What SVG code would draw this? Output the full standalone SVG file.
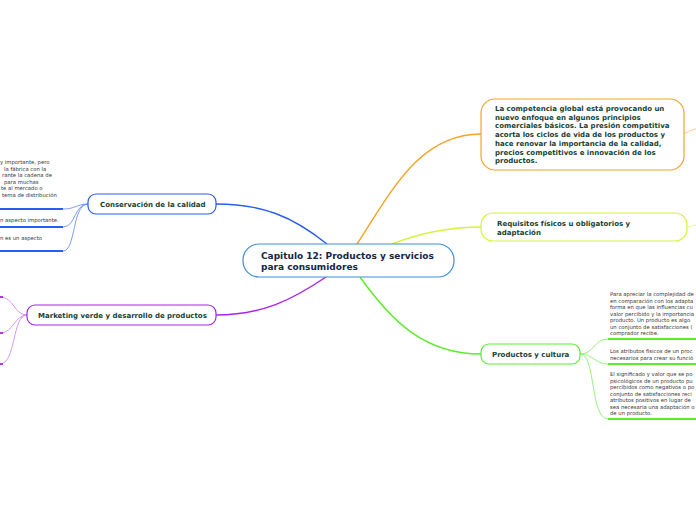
<svg xmlns="http://www.w3.org/2000/svg" width="696" height="520" viewBox="0 0 696 520">
<style>
.lbl{font-family:"DejaVu Sans",Verdana,sans-serif;font-weight:bold;font-size:7px;fill:#173f35}
.ctr{font-family:"DejaVu Sans",Verdana,sans-serif;font-weight:bold;font-size:9px;fill:#15264a}
.sm{font-family:"DejaVu Sans",Verdana,sans-serif;font-size:5.3px;fill:#333}
.box{fill:#fff;stroke-width:1.2}
.c{fill:none;stroke-width:1.4}
.t{fill:none;stroke-width:0.9}
</style>
<rect width="696" height="520" fill="#fff"/>
<g id="connectors">
<path class="c" d="M216,204 C262,204 292,216 327,244" stroke="#2a5cf0"/>
<path class="c" d="M357,244 C392,190 420,134 481,134" stroke="#f7a326"/>
<path class="c" d="M392,244 C420,233 450,227 481,227" stroke="#d4f53a"/>
<path class="c" d="M360,277 C392,322 425,354 481,354" stroke="#5ced2a"/>
<path class="c" d="M326,277 C292,300 262,315 216,315" stroke="#a824ee"/>
<path class="t" d="M684,133 C688,133 690,130 696,129" stroke="#f9c27a"/>
<path class="t" d="M687,227 C690,227 692,225 696,225" stroke="#e4f88a"/>
<path class="t" d="M88,204 C76,204 76,209 63,209" stroke="#6d92f5"/>
<path class="t" d="M88,204 C74,204 76,227 63,227" stroke="#6d92f5"/>
<path class="t" d="M88,204 C72,204 76,251 63,251" stroke="#6d92f5"/>
<path class="t" d="M27,315 C14,315 14,297 0,297" stroke="#cf8cf7"/>
<path class="t" d="M27,315 C14,315 14,333 0,333" stroke="#cf8cf7"/>
<path class="t" d="M27,315 C12,315 16,364 0,364" stroke="#cf8cf7"/>
<path class="t" d="M580,354 C594,354 594,339 608,339" stroke="#8cf06c"/>
<path class="t" d="M580,354 C594,354 594,364 608,364" stroke="#8cf06c"/>
<path class="t" d="M580,354 C596,354 590,419 608,419" stroke="#8cf06c"/>
</g>
<g id="central">
<rect class="box" x="243" y="244" width="211" height="33" rx="16" stroke="#3b8fd6"/>
<text class="ctr" x="261" y="259">Capitulo 12: Productos y servicios</text>
<text class="ctr" x="261" y="270">para consumidores</text>
</g>
<g id="competencia">
<rect class="box" x="481" y="99" width="203" height="71" rx="14" stroke="#f7a326"/>
<text class="lbl" x="495" y="111">La competencia global está provocando un</text>
<text class="lbl" x="495" y="119.7">nuevo enfoque en algunos principios</text>
<text class="lbl" x="495" y="128.4">comerciales básicos. La presión competitiva</text>
<text class="lbl" x="495" y="137.1">acorta los ciclos de vida de los productos y</text>
<text class="lbl" x="495" y="145.8">hace renovar la importancia de la calidad,</text>
<text class="lbl" x="495" y="154.5">precios competitivos e innovación de los</text>
<text class="lbl" x="495" y="163.2">productos.</text>
</g>
<g id="requisitos">
<rect class="box" x="481" y="213" width="206" height="28" rx="12" stroke="#d4f53a"/>
<text class="lbl" x="497" y="226">Requisitos físicos u obligatorios y</text>
<text class="lbl" x="497" y="235">adaptación</text>
</g>
<g id="cultura">
<rect class="box" x="481" y="344" width="99" height="20" rx="8" stroke="#5ced2a"/>
<text class="lbl" x="492" y="357">Productos y cultura</text>
</g>
<g id="cultura-1">
<text class="sm" x="610" y="296">Para apreciar la complejidad de</text>
<text class="sm" x="610" y="302.5">en comparación con los adapta</text>
<text class="sm" x="610" y="309">forma en que las influencias cu</text>
<text class="sm" x="610" y="315.5">valor percibido y la importancia</text>
<text class="sm" x="610" y="322">producto. Un producto es algo</text>
<text class="sm" x="610" y="328.5">un conjunto de satisfacciones (</text>
<text class="sm" x="610" y="335">comprador recibe.</text>
<line x1="608" y1="339" x2="696" y2="339" stroke="#5ced2a" stroke-width="1.8"/>
</g>
<g id="cultura-2">
<text class="sm" x="610" y="353">Los atributos físicos de un proc</text>
<text class="sm" x="610" y="359.5">necesarios para crear su funció</text>
<line x1="608" y1="364" x2="696" y2="364" stroke="#5ced2a" stroke-width="1.8"/>
</g>
<g id="cultura-3">
<text class="sm" x="610" y="376">El significado y valor que se po</text>
<text class="sm" x="610" y="382.5">psicológicos de un producto pu</text>
<text class="sm" x="610" y="389">percibidos como negativos o po</text>
<text class="sm" x="610" y="395.5">conjunto de satisfacciones reci</text>
<text class="sm" x="610" y="402">atributos positivos en lugar de</text>
<text class="sm" x="610" y="408.5">sea necesaria una adaptación o</text>
<text class="sm" x="610" y="415">de un producto.</text>
<line x1="608" y1="419" x2="696" y2="419" stroke="#5ced2a" stroke-width="1.8"/>
</g>
<g id="conservacion">
<rect class="box" x="88" y="194" width="128" height="20" rx="8" stroke="#2a5cf0"/>
<text class="lbl" x="100" y="207">Conservación de la calidad</text>
</g>
<g id="conservacion-1">
<text class="sm" x="0" y="164">y importante, pero</text>
<text class="sm" x="4" y="170.5">la fábrica con la</text>
<text class="sm" x="2" y="177">rante la cadena de</text>
<text class="sm" x="4" y="183.5">para muchas</text>
<text class="sm" x="1" y="190">te al mercado o</text>
<text class="sm" x="2" y="196.5">tema de distribución</text>
<line x1="0" y1="209" x2="63" y2="209" stroke="#2a5cf0" stroke-width="1.8"/>
</g>
<g id="conservacion-2">
<text class="sm" x="0" y="222">n aspecto importante.</text>
<line x1="0" y1="227" x2="63" y2="227" stroke="#2a5cf0" stroke-width="1.8"/>
</g>
<g id="conservacion-3">
<text class="sm" x="0" y="240">n es un aspecto</text>
<line x1="0" y1="251" x2="63" y2="251" stroke="#2a5cf0" stroke-width="1.8"/>
</g>
<g id="marketing">
<rect class="box" x="27" y="305" width="189" height="20" rx="8" stroke="#a824ee"/>
<text class="lbl" x="38" y="318">Marketing verde y desarrollo de productos</text>
</g>
<g id="marketing-ends">
<line x1="0" y1="297" x2="3" y2="297" stroke="#a824ee" stroke-width="1.8"/>
<line x1="0" y1="333" x2="3" y2="333" stroke="#a824ee" stroke-width="1.8"/>
<line x1="0" y1="364" x2="3" y2="364" stroke="#a824ee" stroke-width="1.8"/>
</g>
</svg>
